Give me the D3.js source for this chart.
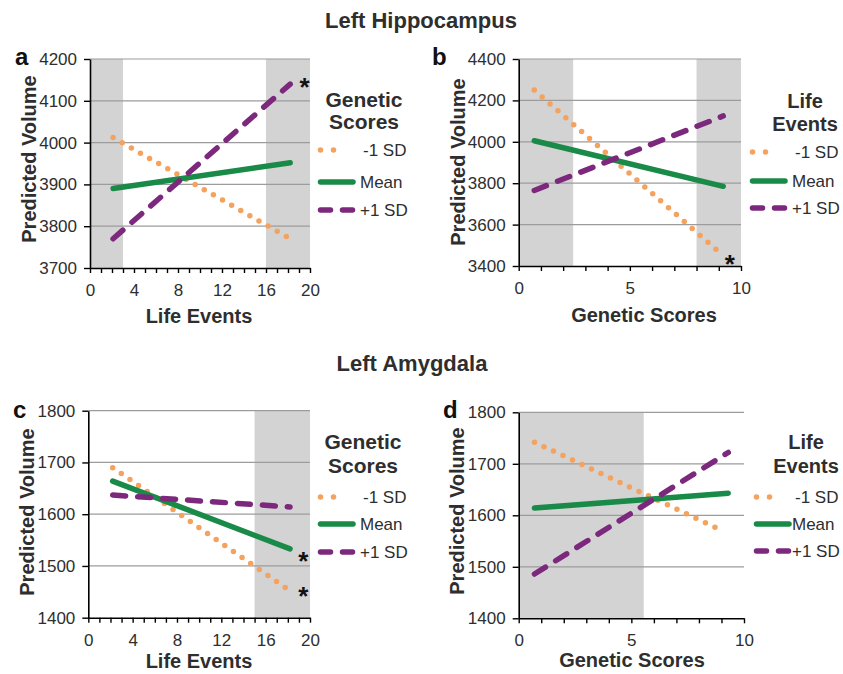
<!DOCTYPE html>
<html><head><meta charset="utf-8">
<script src="https://cdn.jsdelivr.net/npm/d3@7"></script>
<style>
body{margin:0;background:#fff}
svg{display:block}
text{font-family:"Liberation Sans",Arial,Helvetica,sans-serif}
</style>
</head><body>
<svg id="chart" width="843" height="674"></svg>
<script>
// ---------- DATA ----------
const seriesNames = ["-1 SD", "Mean", "+1 SD"];
const sectionTitles = ["Left Hippocampus", "Left Amygdala"];
const panelLetters = ["a", "b", "c", "d"];
const xLabels = ["Life Events", "Genetic Scores", "Life Events", "Genetic Scores"];
const legendTitles = [["Genetic", "Scores"], ["Life", "Events"], ["Genetic", "Scores"], ["Life", "Events"]];
const yLabel = "Predicted Volume";

// panel a : Left Hippocampus vs Life Events
const aX = [2.1, 18.2];
const aMinus1SD = [4012, 3770];
const aMean = [3890, 3952];
const aPlus1SD = [3770, 4140];
const aYTicks = [3700, 3800, 3900, 4000, 4100, 4200];
const aXTicks = [0, 4, 8, 12, 16, 20];
const aShade = [[0, 3], [16, 20]];
const aStars = [[19.5, 4150]];

// panel b : Left Hippocampus vs Genetic Scores
const bX = [0.7, 9.2];
const bMinus1SD = [4250, 3450];
const bMean = [4005, 3785];
const bPlus1SD = [3765, 4125];
const bYTicks = [3400, 3600, 3800, 4000, 4200, 4400];
const bXTicks = [0, 5, 10];
const bShade = [[0, 2.45], [8, 10]];
const bStars = [[9.5, 3442]];

// panel c : Left Amygdala vs Life Events
const cX = [2.2, 18.2];
const cMinus1SD = [1690, 1452];
const cMean = [1664, 1533];
const cPlus1SD = [1637, 1614];
const cYTicks = [1400, 1500, 1600, 1700, 1800];
const cXTicks = [0, 4, 8, 12, 16, 20];
const cShade = [[15, 20]];
const cStars = [[19.4, 1523], [19.4, 1455]];

// panel d : Left Amygdala vs Genetic Scores
const dX = [0.7, 9.3];
const dMinusX = [0.7, 8.9];
const dMinus1SD = [1742, 1573];
const dMean = [1614, 1643];
const dPlus1SD = [1486, 1722];
const dYTicks = [1400, 1500, 1600, 1700, 1800];
const dXTicks = [0, 5, 10];
const dShade = [[0, 5.55]];
const dStars = [];

// ---------- STYLE ----------
const COL = {minus: "#f4a25e", mean: "#198a47", plus: "#7c287c"};
const TXT = "#2e2e2e";
const svg = d3.select("#chart");

// section titles
svg.append("text").attr("x", 421).attr("y", 28).attr("text-anchor", "middle")
  .attr("font-size", 22).attr("font-weight", "bold").attr("fill", TXT).text(sectionTitles[0]);
svg.append("text").attr("x", 412).attr("y", 371).attr("text-anchor", "middle")
  .attr("font-size", 22).attr("font-weight", "bold").attr("fill", TXT).text(sectionTitles[1]);

const panels = [
  {i: 0, box: [90, 310, 59, 268], xDom: [0, 20], yDom: [3700, 4200], yTicks: aYTicks, xTicks: aXTicks,
   shade: aShade, stars: aStars,
   series: [{x: aX, y: aMinus1SD, k: "minus"}, {x: aX, y: aMean, k: "mean"}, {x: aX, y: aPlus1SD, k: "plus"}],
   letter: [15, 65], ylab: [36, 159], xlab: [199, 323], leg: {cx: 364, fs: 21, t: [107, 129], items: [150, 182, 210], sx: 318, tx: 360}},
  {i: 1, box: [518.7, 741, 59, 266], xDom: [0, 10], yDom: [3400, 4400], yTicks: bYTicks, xTicks: bXTicks,
   shade: bShade, stars: bStars,
   series: [{x: bX, y: bMinus1SD, k: "minus"}, {x: bX, y: bMean, k: "mean"}, {x: bX, y: bPlus1SD, k: "plus"}],
   letter: [432, 65], ylab: [465, 162], xlab: [644, 322], leg: {cx: 805, fs: 20, t: [108, 131], items: [152, 181, 208], sx: 750, tx: 792}},
  {i: 2, box: [88.3, 310, 410.7, 617.7], xDom: [0, 20], yDom: [1400, 1800], yTicks: cYTicks, xTicks: cXTicks,
   shade: cShade, stars: cStars,
   series: [{x: cX, y: cMinus1SD, k: "minus"}, {x: cX, y: cMean, k: "mean"}, {x: cX, y: cPlus1SD, k: "plus"}],
   letter: [13, 418], ylab: [34, 512], xlab: [199, 668], leg: {cx: 363, fs: 21, t: [449, 473], items: [497, 524, 552], sx: 318, tx: 360}},
  {i: 3, box: [518.7, 744, 412.3, 618.3], xDom: [0, 10], yDom: [1400, 1800], yTicks: dYTicks, xTicks: dXTicks,
   shade: dShade, stars: dStars,
   series: [{x: dMinusX, y: dMinus1SD, k: "minus"}, {x: dX, y: dMean, k: "mean"}, {x: dX, y: dPlus1SD, k: "plus"}],
   letter: [443, 418], ylab: [464, 511], xlab: [632, 667], leg: {cx: 806, fs: 20, t: [449, 473], items: [497, 524, 551], sx: 754, tx: 792}}
];

function styleSeries(sel, k, legend) {
  sel.attr("fill", "none").attr("stroke", COL[k]);
  if (k === "minus") sel.attr("stroke-width", 5.5).attr("stroke-linecap", "round").attr("stroke-dasharray", legend ? "0 13" : "0 10.5");
  if (k === "mean") sel.attr("stroke-width", 5.5).attr("stroke-linecap", "round");
  if (k === "plus") sel.attr("stroke-width", 5.5).attr("stroke-linecap", "round").attr("stroke-dasharray", legend ? "10 12" : "13 12");
  return sel;
}

panels.forEach(p => {
  const [L, R, T, B] = p.box;
  const x = d3.scaleLinear().domain(p.xDom).range([L, R]);
  const y = d3.scaleLinear().domain(p.yDom).range([B, T]);
  const g = svg.append("g");

  // shaded regions
  g.selectAll(null).data(p.shade).join("rect")
    .attr("x", d => x(d[0])).attr("width", d => x(d[1]) - x(d[0]))
    .attr("y", T).attr("height", B - T).attr("fill", "#d3d3d3");

  // gridlines
  g.selectAll(null).data(p.yTicks.slice(1)).join("line")
    .attr("x1", L).attr("x2", R).attr("y1", d => y(d)).attr("y2", d => y(d))
    .attr("stroke", "#9c9c9c").attr("stroke-width", 1.2);

  // y axis
  const ya = g.append("g").attr("transform", `translate(${L},0)`)
    .call(d3.axisLeft(y).tickValues(p.yTicks).tickSize(6).tickSizeOuter(0).tickPadding(7).tickFormat(d3.format("d")));
  ya.select(".domain").attr("stroke", "#000").attr("stroke-width", 1.6);
  ya.selectAll(".tick line").attr("stroke", "#000").attr("stroke-width", 1.4);
  ya.selectAll(".tick text").attr("font-size", 17).attr("fill", TXT).attr("font-family", "Liberation Sans, Arial, sans-serif");

  // x axis (minor ticks every unit)
  const minor = d3.range(p.xDom[0], p.xDom[1] + 0.001, 1);
  const xa = g.append("g").attr("transform", `translate(0,${B})`)
    .call(d3.axisBottom(x).tickValues(minor).tickSize(5).tickSizeOuter(0).tickPadding(11)
      .tickFormat(d => p.xTicks.includes(d) ? d3.format("d")(d) : ""));
  xa.select(".domain").attr("stroke", "#000").attr("stroke-width", 1.6);
  xa.selectAll(".tick line").attr("stroke", "#000").attr("stroke-width", 1.4);
  xa.selectAll(".tick text").attr("font-size", 17).attr("fill", TXT).attr("font-family", "Liberation Sans, Arial, sans-serif");

  // series lines
  const line = d3.line().x(d => x(d[0])).y(d => y(d[1]));
  p.series.forEach(s => {
    const pts = s.x.map((v, j) => [v, s.y[j]]);
    styleSeries(g.append("path").attr("d", line(pts)), s.k, false);
  });

  // asterisks
  g.selectAll(null).data(p.stars).join("text")
    .attr("x", d => x(d[0])).attr("y", d => y(d[1])).attr("dy", "0.62em")
    .attr("text-anchor", "middle").attr("font-size", 26).attr("font-weight", "bold").attr("fill", "#111").text("*");

  // panel letter
  g.append("text").attr("x", p.letter[0]).attr("y", p.letter[1]).attr("font-size", 24)
    .attr("font-weight", "bold").attr("fill", "#111").text(panelLetters[p.i]);

  // y label
  g.append("text").attr("transform", `translate(${p.ylab[0]},${p.ylab[1]}) rotate(-90)`)
    .attr("text-anchor", "middle").attr("font-size", 20).attr("font-weight", "bold").attr("fill", TXT).text(yLabel);

  // x label
  g.append("text").attr("x", p.xlab[0]).attr("y", p.xlab[1]).attr("text-anchor", "middle")
    .attr("font-size", 20).attr("font-weight", "bold").attr("fill", TXT).text(xLabels[p.i]);

  // legend
  const lg = p.leg;
  legendTitles[p.i].forEach((t, j) => {
    g.append("text").attr("x", lg.cx).attr("y", lg.t[j]).attr("text-anchor", "middle")
      .attr("font-size", lg.fs).attr("font-weight", "bold").attr("fill", TXT).text(t);
  });
  ["minus", "mean", "plus"].forEach((k, j) => {
    const yy = lg.items[j];
    const x1 = lg.sx + 2.5, x2 = k === "minus" ? lg.sx + 28.5 : (k === "mean" ? lg.sx + 35 : lg.sx + 34.5);
    styleSeries(g.append("path").attr("d", `M${x1},${yy}L${x2},${yy}`), k, true);
    g.append("text").attr("x", k === "minus" ? lg.tx + 3 : lg.tx).attr("y", yy).attr("dy", "0.36em")
      .attr("font-size", 17).attr("fill", TXT).text(seriesNames[j]);
  });
});
</script>
</body></html>
